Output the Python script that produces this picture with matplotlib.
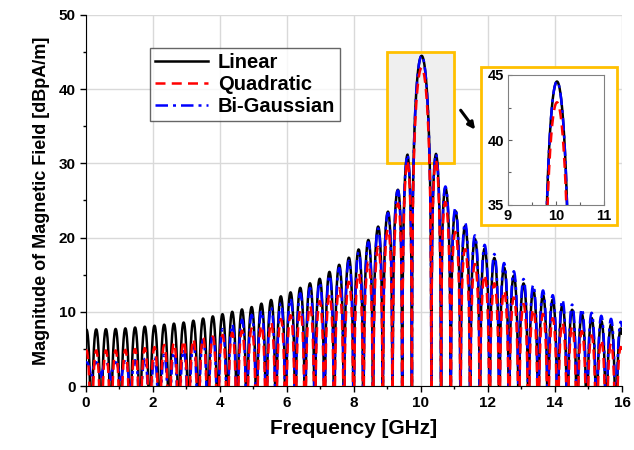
import numpy as np
from matplotlib import pyplot as plt
from matplotlib.patches import Rectangle
from matplotlib.ticker import MultipleLocator

plt.rcParams['font.family'] = ['Liberation Sans', 'DejaVu Sans']
plt.rcParams['font.weight'] = 'bold'

# lobe peak levels [dBpA/m], at these frequencies [GHz]
freq_knots = [0, 1, 2, 3, 4, 5, 6, 7, 8, 8.5, 9, 9.3, 9.6,
              10.45, 10.75, 11, 11.5, 12, 12.5, 13, 13.5, 14, 14.5, 15, 15.5, 16]
linear_peaks = [7.6, 7.7, 8.1, 8.6, 9.6, 10.7, 12.4, 14.5, 17.8, 20.0, 23.4, 26.4, 31.3,
                31.3, 26.5, 23.8, 20.3, 18.1, 15.9, 14.0, 12.6, 11.5, 10.3, 9.3, 8.6, 7.7]
quadratic_peaks = [4.8, 4.8, 5.2, 6.2, 6.8, 7.8, 9.3, 11.5, 14.5, 17.0, 21.0, 24.5, 30.5,
                   30.5, 24.5, 21.0, 17.0, 14.5, 12.8, 11.2, 10.0, 9.0, 8.0, 7.0, 6.0, 5.2]
bigauss_peaks = [3.2, 3.2, 3.8, 5.0, 7.5, 9.7, 11.5, 14.0, 17.4, 19.7, 23.2, 26.3, 31.3,
                 31.3, 26.7, 24.2, 20.8, 18.6, 16.5, 14.6, 13.2, 12.1, 11.0, 10.0, 9.3, 8.6]
# how far the dips stay up (fraction of the lobe peak), only Bi-Gaussian at low f
bigauss_dip = [0.8, 0.75, 0.0, 0, 0, 0, 0, 0, 0, 0, 0, 0, 0,
               0, 0, 0, 0, 0, 0, 0, 0, 0, 0, 0, 0, 0]
no_dip = [0] * len(freq_knots)

main_peaks = {'Linear': 44.5, 'Quadratic': 42.9, 'Bi-Gaussian': 44.5}
center_freq = 10.02
lobe_period = 0.29

freq = np.linspace(0, 16, 16001)


def spectrum(peaks, dips, main_peak):
    x = (freq - center_freq) / lobe_period
    env = 10 ** (np.interp(freq, freq_knots, peaks) / 20)
    dip = np.interp(freq, freq_knots, dips)
    amp = env * (dip + (1 - dip) * np.abs(np.sin(np.pi * x)))
    main = np.abs(x) < 1
    amp[main] = 10 ** (main_peak / 20) * np.abs(np.sinc(x[main]))
    return 20 * np.log10(np.maximum(amp, 1e-6))


series = [
    ('Linear', linear_peaks, no_dip, dict(color='black', lw=1.8, ls='-'), 2),
    ('Quadratic', quadratic_peaks, no_dip, dict(color='#ff0000', lw=1.8, ls=(0, (4, 2.5))), 4),
    ('Bi-Gaussian', bigauss_peaks, bigauss_dip, dict(color='#0000ff', lw=1.8, ls=(0, (5, 2, 1.2, 2))), 3),
]

fig = plt.figure(figsize=(6.34, 4.5), dpi=100)
ax = fig.add_axes([0.1356, 0.1422, 0.8454, 0.8245])

handles = []
curves = {}
for name, peaks, dips, style, z in series:
    y = spectrum(peaks, dips, main_peaks[name])
    curves[name] = y
    h, = ax.plot(freq, y, label=name, zorder=z, **style)
    handles.append(h)

ax.add_patch(Rectangle((9.0, 30.0), 2.0, 15.0, facecolor='#efefef',
                       edgecolor='#ffc000', lw=2, zorder=1))

ax.set_xlim(0, 16)
ax.set_ylim(0, 50)
ax.xaxis.set_major_locator(MultipleLocator(2))
ax.xaxis.set_minor_locator(MultipleLocator(1))
ax.yaxis.set_major_locator(MultipleLocator(10))
ax.yaxis.set_minor_locator(MultipleLocator(5))
ax.grid(True, which='major', color='#d9d9d9', lw=1)
ax.set_axisbelow(True)
for s in ['top', 'right']:
    ax.spines[s].set_visible(False)
ax.tick_params(which='both', direction='out', labelsize=11, width=1)
ax.tick_params(which='major', length=4)
ax.tick_params(which='minor', length=2.5)
ax.set_xlabel('Frequency [GHz]', fontsize=15, fontweight='bold', labelpad=6)
ax.set_ylabel('Magnitude of Magnetic Field [dBpA/m]', fontsize=13, fontweight='bold', labelpad=6)

leg = ax.legend(handles=handles, loc='upper left', bbox_to_anchor=(0.12, 0.912),
                fontsize=14.5, frameon=True, fancybox=False, handlelength=2.6,
                borderpad=0.25, labelspacing=0.15, handletextpad=0.5, borderaxespad=0)
leg.get_frame().set_edgecolor('#404040')
leg.get_frame().set_linewidth(1)

# inset with orange frame
fig.patches.append(Rectangle((481 / 634, 1 - 225 / 450), 136 / 634, 158 / 450,
                             transform=fig.transFigure, facecolor='white',
                             edgecolor='#ffc000', lw=2, zorder=5))
axin = fig.add_axes([508 / 634, 1 - 205 / 450, 96 / 634, 130 / 450], zorder=6)
for name, peaks, dips, style, z in series:
    axin.plot(freq, curves[name], zorder=z, **style)
axin.set_xlim(9, 11)
axin.set_ylim(35, 45)
axin.xaxis.set_major_locator(MultipleLocator(1))
axin.xaxis.set_minor_locator(MultipleLocator(0.5))
axin.yaxis.set_major_locator(MultipleLocator(5))
axin.yaxis.set_minor_locator(MultipleLocator(2.5))
axin.tick_params(which='both', direction='in', labelsize=10.5, width=0.8, color='#606060')
axin.tick_params(axis='x', pad=3)
axin.tick_params(axis='y', pad=3)
axin.tick_params(which='major', length=3)
axin.tick_params(which='minor', length=2)
for s in axin.spines.values():
    s.set_color('#808080')

ax.annotate('', xy=(0.752, 0.707), xytext=(0.724, 0.760), xycoords='figure fraction',
            textcoords='figure fraction',
            arrowprops=dict(arrowstyle='-|>', color='black', lw=2.2, mutation_scale=10))

fig.savefig('out.png', dpi=100)
